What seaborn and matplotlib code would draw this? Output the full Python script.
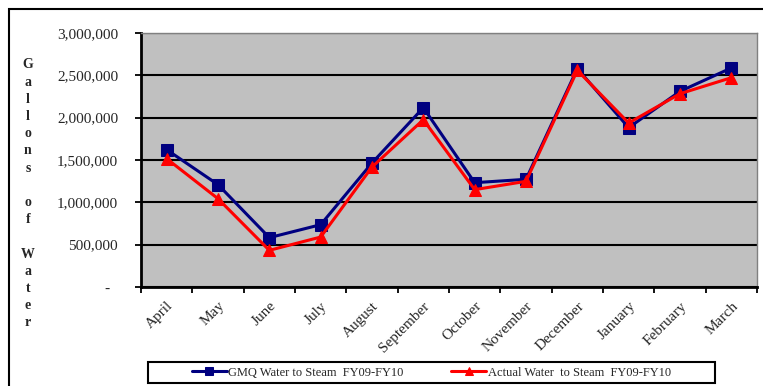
import matplotlib
matplotlib.use("Agg")
import matplotlib.pyplot as plt
from matplotlib.patches import Rectangle
from matplotlib.ticker import FuncFormatter, MultipleLocator
import pandas as pd
import seaborn as sns

months = ["April", "May", "June", "July", "August", "September", "October",
          "November", "December", "January", "February", "March"]
gmq = [1622000, 1209000, 583000, 736000, 1465000, 2118000, 1232000,
       1272000, 2579000, 1882000, 2311000, 2587000]
actual = [1516000, 1043000, 433000, 590000, 1417000, 1976000, 1150000,
          1248000, 2559000, 1937000, 2283000, 2472000]
series_names = ["GMQ Water to Steam  FY09-FY10", "Actual Water  to Steam  FY09-FY10"]

sns.set_style("white")
plt.rcParams["font.family"] = ["Liberation Serif", "DejaVu Serif"]

df = pd.DataFrame({"Month": months, "GMQ": gmq, "Actual": actual})
df["pos"] = range(len(months))

fig = plt.figure(figsize=(7.63, 3.86), dpi=100)
ax = fig.add_axes([141 / 763, 99 / 386, 616 / 763, 254 / 386])
ax.set_facecolor("#C0C0C0")

sns.lineplot(data=df, x="pos", y="GMQ", ax=ax, color="#000080", marker="s",
             markersize=8.5, markeredgecolor="#000080", linewidth=2.2,
             label=series_names[0])
sns.lineplot(data=df, x="pos", y="Actual", ax=ax, color="#FF0000", marker="^",
             markersize=9, markeredgecolor="#FF0000", linewidth=2.2,
             label=series_names[1])

ax.set_xlim(-0.5, len(months) - 0.5)
ax.set_ylim(0, 3000000)
ax.set_xlabel("")
ax.set_ylabel("")

# y axis
ax.yaxis.set_major_locator(MultipleLocator(500000))
ax.yaxis.set_major_formatter(FuncFormatter(lambda v, p: "-  " if v == 0 else f"{v:,.0f}"))
ax.yaxis.grid(True, color="black", linewidth=1.5)
ax.set_axisbelow(True)
for gl in ax.get_ygridlines():
    if gl.get_ydata()[0] >= 3000000:
        gl.set_visible(False)
ax.tick_params(axis="y", which="major", direction="out", length=4.5, width=1.3,
               color="black", pad=12, labelsize=11, left=True)

# x axis: labels at centers, tick marks at boundaries
ax.set_xticks(range(len(months)))
ax.set_xticklabels(months, rotation=45, ha="right", va="top", rotation_mode="anchor")
ax.set_xticks([i - 0.5 for i in range(len(months) + 1)], minor=True)
ax.tick_params(axis="x", which="major", length=0, pad=9, labelsize=11)
ax.tick_params(axis="x", which="minor", direction="out", length=4.5, width=1.3,
               color="black", bottom=True)

for side in ["left", "bottom"]:
    ax.spines[side].set_color("black")
    ax.spines[side].set_linewidth(2)
for side in ["top", "right"]:
    ax.spines[side].set_color("#808080")
    ax.spines[side].set_linewidth(1)

# stacked y label
ylabel = "Gallons of Water"
y0 = 1 - 65 / 386
for i, ch in enumerate(ylabel):
    fig.text(28 / 763, y0 - i * 17.2 / 386, ch, ha="center", va="center",
             fontsize=10, fontweight="bold")

# legend
handles, labels = ax.get_legend_handles_labels()
ax.get_legend().remove()
leg = fig.legend(handles, labels, loc="center", ncol=2,
                 bbox_to_anchor=(431.5 / 763, 1 - 372.5 / 386),
                 fontsize=9, frameon=False, handlelength=2.8,
                 handletextpad=0.15, columnspacing=3.8, markerscale=0.65)
fig.patches.append(Rectangle((148 / 763, 1 - 383 / 386), 567 / 763, 21 / 386,
                             transform=fig.transFigure, fill=False,
                             edgecolor="black", linewidth=1.5))

# outer chart border
fig.patches.append(Rectangle((9 / 763, -0.1), 1.0, 1.1 - 9 / 386,
                             transform=fig.transFigure, fill=False,
                             edgecolor="black", linewidth=1.5))

fig.savefig("out.png", dpi=100)
